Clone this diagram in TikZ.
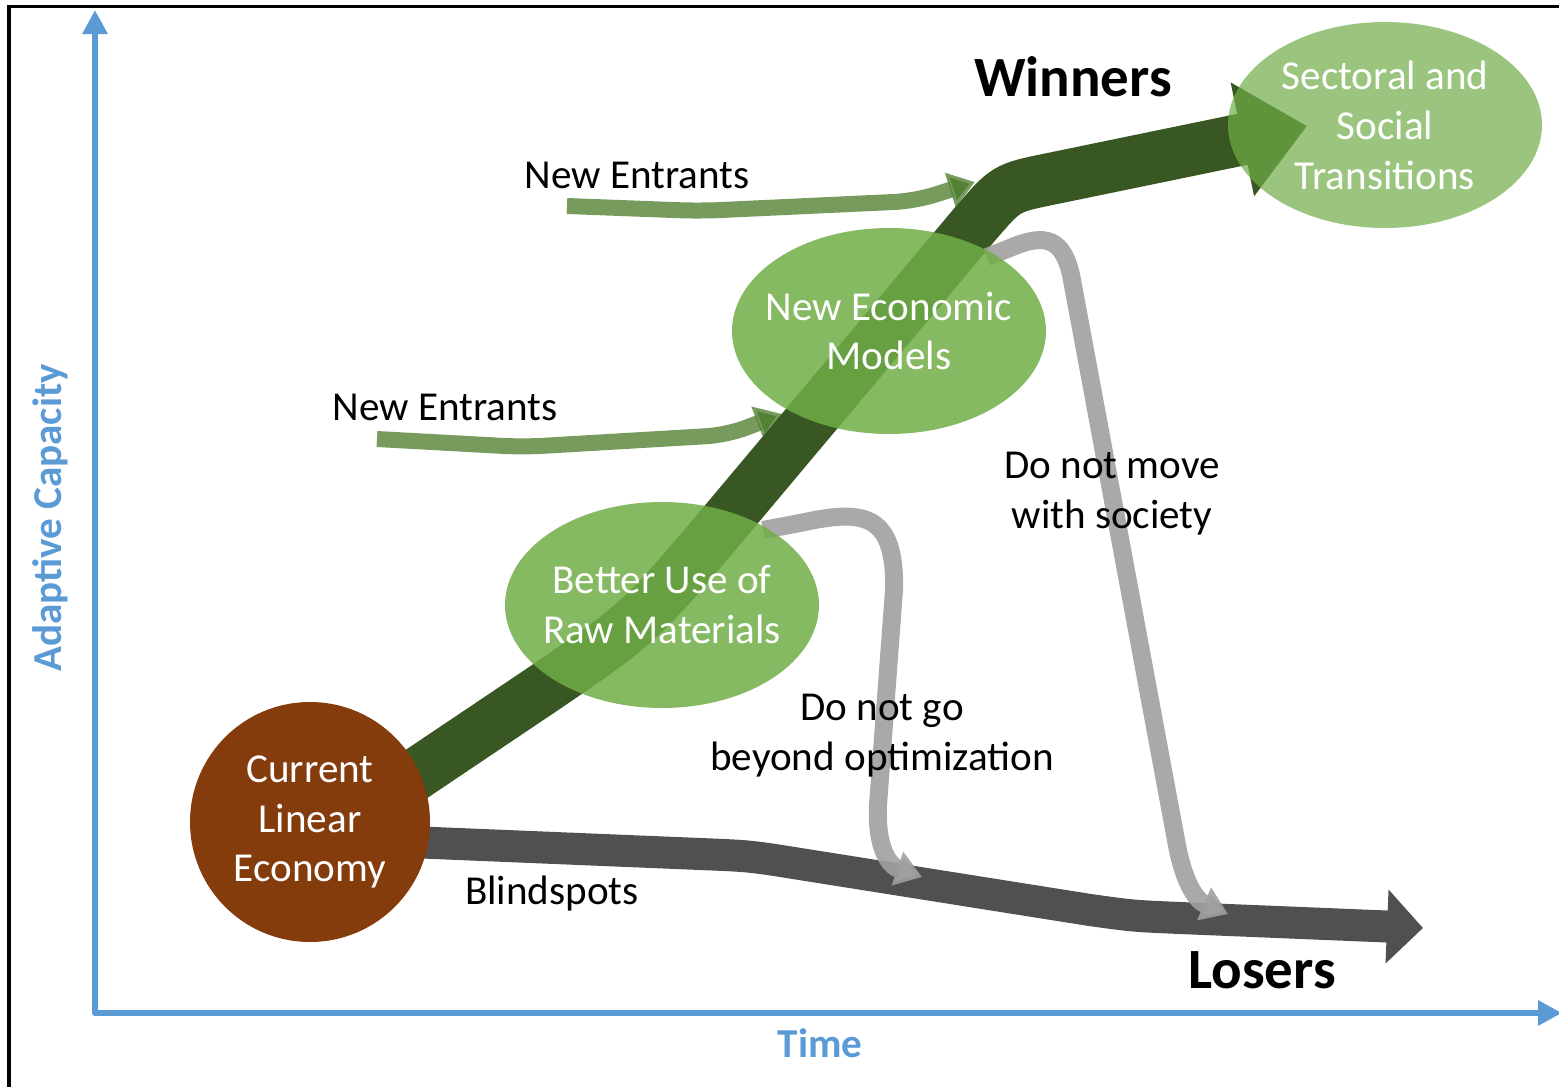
\documentclass[tikz,border=0pt]{standalone}
\usepackage{fontspec}
\setmainfont{Carlito}
\usetikzlibrary{arrows.meta,shapes.geometric}
\tikzset{% default arrow tips
    >=Triangle
}
\definecolor{axisblue}{HTML}{5B9BD5}
\definecolor{linbrown}{HTML}{843C0C}
\definecolor{wingreen}{HTML}{385723}
\definecolor{bubgreen}{HTML}{70AD47}
\definecolor{entgreen}{HTML}{548235}
\definecolor{losegrey}{HTML}{505050}
\definecolor{staygrey}{HTML}{A0A0A0}
\newcommand{\bodyfont}{\fontsize{11.7}{14.2}\selectfont}
\newcommand{\bigfont}{\fontsize{16.2}{19}\selectfont\bfseries}

\begin{document}
\begin{tikzpicture}[x=0.1mm,y=-0.1mm]
    \useasboundingbox (0,0) rectangle (1559,1087);
    \newcommand{\bubw}{31.4mm} % width of the ellipses
    \newcommand{\bubh}{20.6mm} % height of the ellipses

    % styles of bands and bubbles
    \tikzset{
        winband/.style={draw=wingreen, line width=5.2mm, -{Triangle[width=11.2mm,length=6.6mm]}},
        loseband/.style={draw=losegrey, line width=3.2mm, -{Triangle[width=7.2mm,length=3.6mm]}},
        stayband/.style={draw=staygrey, draw opacity=.9, line width=1.8mm, -{Triangle[width=3.4mm,length=2.6mm]}},
        entband/.style={draw=entgreen, draw opacity=.8, line width=1.6mm, rounded corners=2mm, -{Triangle[width=3.4mm,length=2.6mm]}},
        bubble/.style={ellipse, fill=bubgreen, fill opacity=.85, minimum width=\bubw, minimum height=\bubh, inner sep=0pt},
        bubtext/.style={text=white, align=center, font=\bodyfont},
        note/.style={align=center, font=\bodyfont},
        big/.style={font=\bigfont},
        axislabel/.style={text=axisblue, font=\bodyfont\bfseries}
    }

    % frame
    \draw[line width=0.33mm] (9,1090) -- (9,6.5) -- (1562,6.5);

    % axes
    \coordinate (ytop) at (95,10);
    \coordinate (origin) at (95,1013);
    \coordinate (xend) at (1562,1013);
    \draw[axisblue, line width=0.6mm, line join=round, {Triangle[width=2.4mm,length=2.4mm]}-{Triangle[width=2.4mm,length=2.4mm]}] (ytop) -- (origin) -- (xend);
    \node[axislabel] (time) at (820,1043) {Time};
    \node[axislabel, rotate=90] (capacity) at (50,518) {Adaptive Capacity};

    % new entrants
    \coordinate (ent1s) at (567,206);
    \coordinate (ent1e) at (975,182);
    \draw[entband] (ent1s) -- (700,211) -- (915,201) -- (ent1e);
    \coordinate (ent2s) at (377,439);
    \coordinate (ent2e) at (782,414);
    \draw[entband] (ent2s) -- (523,447) -- (727,435) -- (ent2e);

    % winners and losers
    \coordinate (wins) at (400,785);
    \coordinate (wine) at (1307,126);
    \draw[winband] (wins) -- (540,691) .. controls (640,623) .. (730,516) -- (975,224) .. controls (1006,188) .. (1050,179) -- (wine);
    \coordinate (loses) at (410,842);
    \coordinate (losee) at (1423,928);
    \draw[loseband] (loses) -- (700,854) .. controls (750,856) .. (800,864) -- (1090,910) .. controls (1133,916) .. (1180,918) -- (losee);

    % falling back
    \coordinate (opts) at (763,530);
    \coordinate (opte) at (922,877);
    \draw[stayband] (opts) -- (800,523) .. controls (860,510) and (896,510) .. (894,590) -- (878,805) .. controls (876,850) and (890,866) .. (opte);
    \coordinate (movs) at (987,257);
    \coordinate (move) at (1228,914);
    \draw[stayband] (movs) -- (1010,248) .. controls (1045,233) and (1064,237) .. (1072,280) -- (1176,840) .. controls (1183,880) and (1195,900) .. (move);

    % bubbles
    \node[bubble] (raw) at (662,605) {};
    \node[bubtext] (rawtxt) at (raw) {Better Use of\\Raw Materials};
    \node[bubble] (models) at (889,331) {};
    \node[bubtext] (modelstxt) at (models) {New Economic\\Models};
    \node[bubble, fill opacity=.7] (trans) at (1385,125) {};
    \node[bubtext] (transtxt) at (trans) {Sectoral and\\Social\\Transitions};
    \node[circle, fill=linbrown, minimum size=24mm, inner sep=0pt, text=white, align=center, font=\bodyfont] (linear) at (310,822) {Current\\Linear\\Economy};

    % labels
    \node[big] (winners) at (1073,77) {Winners};
    \node[big] (losers) at (1262,970) {Losers};
    \node[note] (enttop) at (637,175) {New Entrants};
    \node[note] (entlow) at (445,407) {New Entrants};
    \node[note] (society) at (1112,494) {Do not move\\with society};
    \node[note] (optim) at (882,736) {Do not go\\beyond optimization};
    \node[note] (blind) at (552,894) {Blindspots};
\end{tikzpicture}
\end{document}
